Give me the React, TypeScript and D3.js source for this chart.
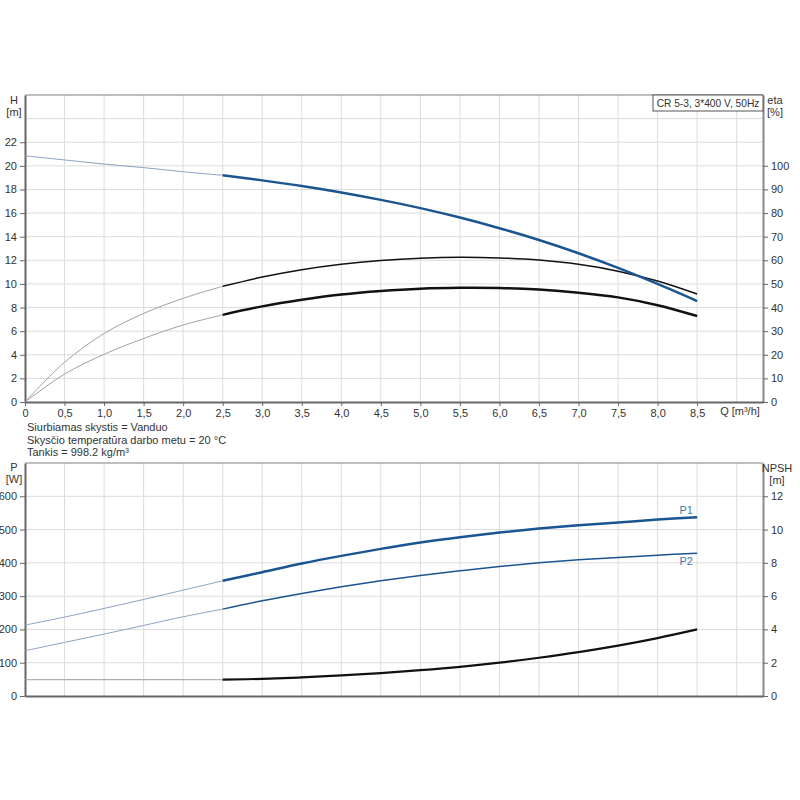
import React, { useEffect, useRef } from 'react';
import * as d3 from 'd3';

// flow values shared by all curves
const qValues = [0, 0.5, 1.0, 1.5, 2.0, 2.5, 3.0, 3.5, 4.0, 4.5, 5.0, 5.5, 6.0, 6.5, 7.0, 7.5, 8.0, 8.5];

// top chart
const headValues = [20.85, 20.5, 20.15, 19.85, 19.5, 19.2, 18.77, 18.3, 17.75, 17.12, 16.42, 15.62, 14.72, 13.72, 12.6, 11.36, 10.0, 8.55];
const etaUpper = [0, 16.8, 29, 37.5, 43.9, 49, 52.9, 56.0, 58.3, 59.9, 60.9, 61.3, 61.0, 60.1, 58.3, 55.4, 51.2, 45.7];
const etaLower = [0, 11.8, 20.2, 26.9, 32.6, 36.9, 40.5, 43.3, 45.5, 47.0, 48.0, 48.4, 48.3, 47.6, 46.3, 44.3, 41, 36.4];

// bottom chart
const p1Values = [213, 237, 263, 290, 318, 346, 372, 398, 421, 442, 461, 477, 491, 503, 513, 521, 530, 537];
const p2Values = [136, 161, 186, 212, 238, 261, 286, 308, 328, 346, 362, 376, 389, 400, 409, 416, 423, 429];
const npshValues = [0.98, 0.98, 0.98, 0.98, 0.98, 0.98, 1.03, 1.12, 1.24, 1.38, 1.55, 1.75, 2.0, 2.3, 2.64, 3.03, 3.48, 4.0];

const xTicks = [0, 0.5, 1.0, 1.5, 2.0, 2.5, 3.0, 3.5, 4.0, 4.5, 5.0, 5.5, 6.0, 6.5, 7.0, 7.5, 8.0, 8.5];
const xGrid = [0.5, 1, 1.5, 2, 2.5, 3, 3.5, 4, 4.5, 5, 5.5, 6, 6.5, 7, 7.5, 8, 8.5, 9];
const hTicks = [0, 2, 4, 6, 8, 10, 12, 14, 16, 18, 20, 22];
const hGrid = [2, 4, 6, 8, 10, 12, 14, 16, 18, 20, 22, 24];
const etaTicks = [0, 10, 20, 30, 40, 50, 60, 70, 80, 90, 100];
const pTicks = [0, 100, 200, 300, 400, 500, 600];
const npshTicks = [0, 2, 4, 6, 8, 10, 12];

const infoLines = [
  'Siurbiamas skystis = Vanduo',
  'Skysčio temperatūra darbo metu = 20 °C',
  'Tankis = 998.2 kg/m³',
];

const FONT = '"Liberation Sans", Arial, sans-serif';
const BLUE = '#1b5591';
const START_Q = 2.5;

const App: React.FC = () => {
  const svgRef = useRef<SVGSVGElement | null>(null);

  useEffect(() => {
    if (!svgRef.current) return;
    const svg = d3.select(svgRef.current);
    svg.selectAll('*').remove();

    const left = 25;
    const right = 763;
    const x = d3.scaleLinear().domain([0, 9.333]).range([left, right]);

    const yH = d3.scaleLinear().domain([0, 26]).range([402, 95]);
    const yEta = d3.scaleLinear().domain([0, 130]).range([402, 95]);
    const yP = d3.scaleLinear().domain([0, 700]).range([696, 463]);
    const yN = d3.scaleLinear().domain([0, 14]).range([696, 463]);

    const g = svg.append('g').style('font-family', FONT).style('font-size', '11px');

    // ---- grid helper
    const drawGrid = (yScale: d3.ScaleLinear<number, number>, yVals: number[], y0: number, y1: number) => {
      g.append('g')
        .selectAll('line.v')
        .data(xGrid)
        .enter().append('line')
        .attr('x1', d => x(d)).attr('x2', d => x(d))
        .attr('y1', y0).attr('y2', y1)
        .attr('stroke', '#dcdcdc').attr('stroke-width', 1);
      g.append('g')
        .selectAll('line.h')
        .data(yVals)
        .enter().append('line')
        .attr('x1', left).attr('x2', right)
        .attr('y1', d => yScale(d)).attr('y2', d => yScale(d))
        .attr('stroke', '#dcdcdc').attr('stroke-width', 1);
      // top border
      g.append('line')
        .attr('x1', left).attr('x2', right).attr('y1', y0).attr('y2', y0)
        .attr('stroke', '#aaaaaa').attr('stroke-width', 1.5);
    };

    drawGrid(yH, hGrid, 95, 402);
    drawGrid(yP, pTicks.slice(1), 463, 696);

    // ---- axes
    const styleAxis = (sel: d3.Selection<SVGGElement, unknown, null, undefined>) => {
      sel.select('.domain').attr('stroke', '#666').attr('stroke-width', 2);
      sel.selectAll('.tick line').attr('stroke', '#666');
      sel.selectAll('.tick text').attr('fill', '#333').style('font-family', FONT).style('font-size', '11px');
    };

    const axH = g.append('g').attr('transform', `translate(${left},0)`)
      .call(d3.axisLeft(yH).tickValues(hTicks).tickSize(5).tickSizeOuter(0).tickPadding(3));
    styleAxis(axH);
    const axEta = g.append('g').attr('transform', `translate(${right},0)`)
      .call(d3.axisRight(yEta).tickValues(etaTicks).tickSize(5).tickSizeOuter(0).tickPadding(3));
    styleAxis(axEta);
    axEta.select('.domain').attr('stroke', '#888');

    const axQ = g.append('g').attr('transform', 'translate(0,402)')
      .call(d3.axisBottom(x).tickValues(xTicks).tickSize(4).tickSizeOuter(0).tickPadding(3)
        .tickFormat(d => (d === 0 ? '0' : d3.format('.1f')(d as number).replace('.', ','))));
    styleAxis(axQ);

    const axP = g.append('g').attr('transform', `translate(${left},0)`)
      .call(d3.axisLeft(yP).tickValues(pTicks).tickSize(5).tickSizeOuter(0).tickPadding(3));
    styleAxis(axP);
    const axN = g.append('g').attr('transform', `translate(${right},0)`)
      .call(d3.axisRight(yN).tickValues(npshTicks).tickSize(5).tickSizeOuter(0).tickPadding(3));
    styleAxis(axN);
    axN.select('.domain').attr('stroke', '#888');

    const axQ2 = g.append('g').attr('transform', 'translate(0,696)')
      .call(d3.axisBottom(x).tickValues([]).tickSizeOuter(0));
    styleAxis(axQ2);

    // ---- axis titles
    const label = (tx: number, ty: number, text: string, anchor = 'middle', fill = '#333') =>
      g.append('text').attr('x', tx).attr('y', ty).attr('text-anchor', anchor).attr('fill', fill).text(text);

    label(14, 104, 'H');
    label(14, 116, '[m]');
    label(775, 104, 'eta');
    label(775, 116, '[%]');
    label(740, 415, 'Q [m³/h]');
    label(14, 471, 'P');
    label(14, 483, '[W]');
    label(777, 472, 'NPSH');
    label(777, 484, '[m]');

    infoLines.forEach((t, i) => label(27, 431 + i * 12.5, t, 'start'));

    // model box
    g.append('rect').attr('x', 653).attr('y', 95).attr('width', 110).attr('height', 16)
      .attr('fill', 'white').attr('stroke', '#555').attr('stroke-width', 1);
    label(708, 107, 'CR 5-3, 3*400 V, 50Hz').style('font-size', '10.2px');

    // ---- curves
    type Pt = [number, number];
    const drawCurve = (
      vals: number[],
      yScale: d3.ScaleLinear<number, number>,
      thinColor: string,
      thickColor: string,
      thickWidth: number,
    ) => {
      const pts: Pt[] = qValues.map((q, i) => [q, vals[i]]);
      const line = d3.line<Pt>()
        .x(d => x(d[0]))
        .y(d => yScale(d[1]))
        .curve(d3.curveCatmullRom.alpha(0.5));
      g.append('path').datum(pts.filter(p => p[0] <= START_Q))
        .attr('d', line).attr('fill', 'none').attr('stroke', thinColor).attr('stroke-width', 1);
      g.append('path').datum(pts.filter(p => p[0] >= START_Q))
        .attr('d', line).attr('fill', 'none').attr('stroke', thickColor).attr('stroke-width', thickWidth);
    };

    drawCurve(etaUpper, yEta, '#a0a0a0', '#111', 1.5);
    drawCurve(etaLower, yEta, '#a0a0a0', '#111', 2.5);
    drawCurve(headValues, yH, '#8aa3c2', BLUE, 2.5);

    drawCurve(p1Values, yP, '#8aa3c2', BLUE, 2.5);
    drawCurve(p2Values, yP, '#8aa3c2', BLUE, 1.5);
    drawCurve(npshValues, yN, '#999999', '#111', 2.2);

    label(693, 514, 'P1', 'end', '#4a76a8');
    label(693, 565, 'P2', 'end', '#4a76a8');
  }, []);

  return (
    <svg
      ref={svgRef}
      width={800}
      height={800}
      style={{ position: 'absolute', left: 0, top: 0, background: 'white' }}
    />
  );
};

export default App;
